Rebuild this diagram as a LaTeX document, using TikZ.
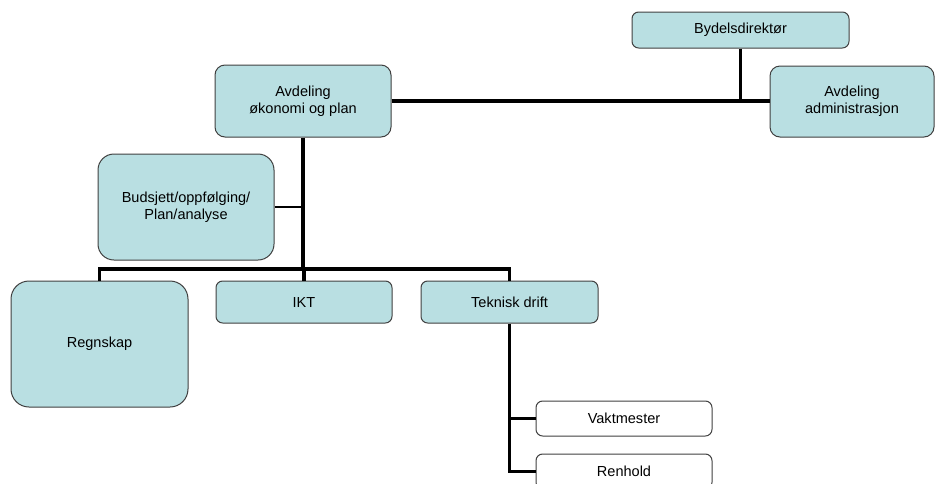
\documentclass[tikz,border=0pt]{standalone}
\usepackage{fontspec}
\setmainfont{Liberation Sans}
\usetikzlibrary{positioning}

\definecolor{unitfill}{RGB}{185,223,226}
\definecolor{unitline}{RGB}{64,64,64}

\begin{document}
\begin{tikzpicture}[x=0.75pt,y=-0.75pt]
    \tikzset{
      unit/.style={
        rectangle,
        draw=unitline,
        line width=0.75pt,
        fill=unitfill,
        minimum width=132pt,
        minimum height=31.5pt,
        inner sep=0pt,
        align=center,
        rounded corners=5pt,
        font=\fontsize{10.9}{12.5}\selectfont
      },
      plain/.style={unit,fill=white},
      link/.style={line width=2.4pt},
      thinlink/.style={line width=1.6pt}
    }

    \useasboundingbox (0,0) rectangle (936,483);
    \clip (0,0) rectangle (936,483);

    %Top node
    \node[unit,minimum width=162.75pt,minimum height=27pt] at (740.5,30) (dir) {Bydelsdirektør};
    %Right department
    \node[unit,minimum width=123pt,minimum height=53.25pt,rounded corners=7.5pt] at (852,101.5) (adm) {Avdeling\\administrasjon};
    %Left department
    \node[unit,minimum height=54pt,rounded corners=7.5pt] at (303,101) (okon) {Avdeling\\økonomi og plan};

    %Staff node
    \node[unit,minimum height=79.5pt,rounded corners=12pt] at (186,207) (bud) {Budsjett/oppfølging/\\Plan/analyse};

    %Sections
    \node[unit,minimum width=132.75pt,minimum height=94.5pt,rounded corners=13.5pt] at (99.5,344) (regn) {Regnskap};
    \node[unit] at (304,302) (ikt) {IKT};
    \node[unit,minimum width=132.75pt] at (509.5,302) (tek) {Teknisk drift};

    %Sub sections
    \node[plain,minimum height=26.25pt] at (624,418.5) (vakt) {Vaktmester};
    \node[plain,minimum height=26.25pt] at (624,471.5) (ren) {Renhold};

    %Connectors
    \coordinate (bus) at (303,269);
    \draw[link] (okon.east) -- (okon.east -| adm.west);
    \draw[link] (dir.south) -- (dir.south |- okon.east);
    \draw[link] (okon.south) -- (bus);
    \draw[thinlink] (bud.east) -- (bud.east -| okon.south);
    \draw[link] (regn.north) |- (bus) -| (tek.north);
    \draw[link] (ikt.north) -- (ikt.north |- bus);
    \draw[link] (tek.south) |- (ren.west);
    \draw[link] (vakt.west) -- (vakt.west -| tek.south);
\end{tikzpicture}
\end{document}
